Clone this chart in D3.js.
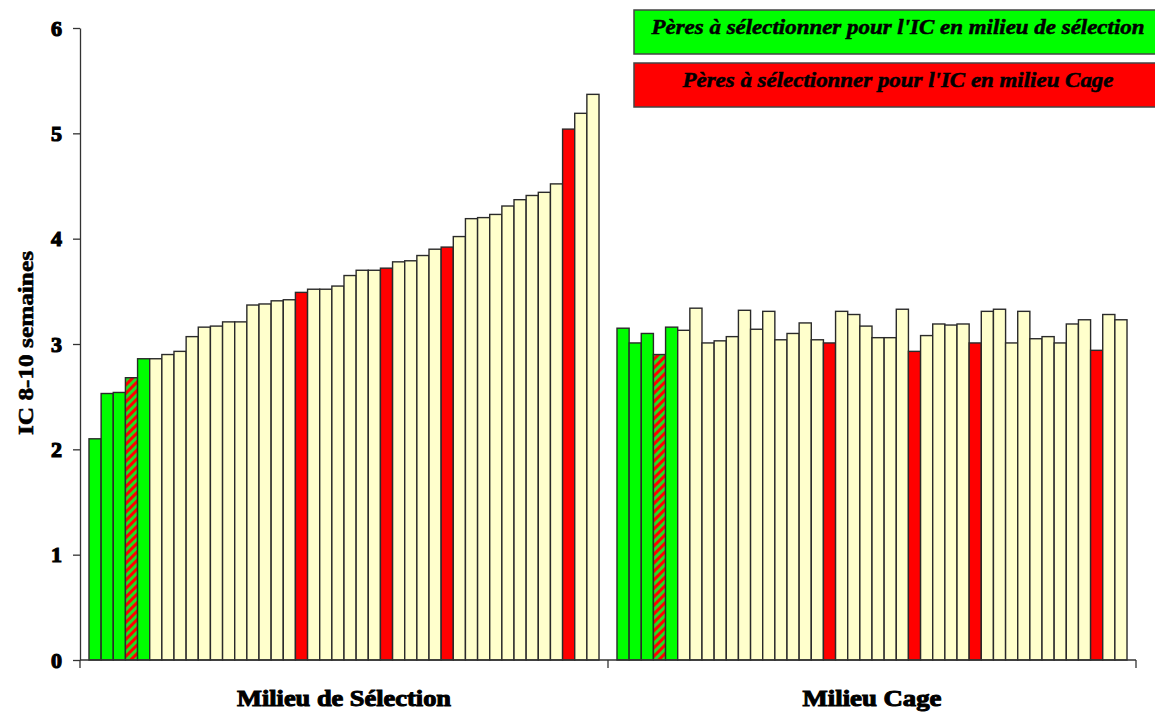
<!DOCTYPE html>
<html>
<head>
<meta charset="utf-8">
<script src="https://cdn.jsdelivr.net/npm/d3@7"></script>
<style>
  html, body { margin: 0; padding: 0; background: #ffffff; }
  svg { display: block; }
  text { font-family: "Liberation Serif", "Times New Roman", serif; }
</style>
</head>
<body>
<svg id="chart" width="1155" height="713"></svg>
<script>
// Environment groups on the x axis
const groups = ["Milieu de Sélection", "Milieu Cage"];

// IC 8-10 weeks, one bar per sire, sorted within each environment
const selectionValues = [
  2.10, 2.53, 2.54, 2.68, 2.86, 2.86, 2.90, 2.93, 3.07, 3.16, 3.17, 3.21, 3.21, 3.37,
  3.38, 3.41, 3.42, 3.49, 3.52, 3.52, 3.55, 3.65, 3.70, 3.70, 3.72, 3.78, 3.79, 3.84,
  3.90, 3.92, 4.02, 4.19, 4.20, 4.23, 4.31, 4.37, 4.41, 4.44, 4.52, 5.04, 5.19, 5.37
];
const cageValues = [
  3.15, 3.01, 3.10, 2.90, 3.16, 3.13, 3.34, 3.01, 3.03, 3.07, 3.32, 3.14, 3.31, 3.04,
  3.10, 3.20, 3.04, 3.01, 3.31, 3.28, 3.17, 3.06, 3.06, 3.33, 2.93, 3.08, 3.19, 3.18,
  3.19, 3.01, 3.31, 3.33, 3.01, 3.31, 3.05, 3.07, 3.01, 3.19, 3.23, 2.94, 3.28, 3.23
];

// Sire status: S = chosen for selection environment, C = chosen for cage, B = both, N = none
const selectionStatus = [
  "S", "S", "S", "B", "S", "N", "N", "N", "N", "N", "N", "N", "N", "N",
  "N", "N", "N", "C", "N", "N", "N", "N", "N", "N", "C", "N", "N", "N",
  "N", "C", "N", "N", "N", "N", "N", "N", "N", "N", "N", "C", "N", "N"
];
const cageStatus = [
  "S", "S", "S", "B", "S", "N", "N", "N", "N", "N", "N", "N", "N", "N",
  "N", "N", "N", "C", "N", "N", "N", "N", "N", "N", "C", "N", "N", "N",
  "N", "C", "N", "N", "N", "N", "N", "N", "N", "N", "N", "C", "N", "N"
];

const yTicks = [0, 1, 2, 3, 4, 5, 6];
const yTitle = "IC 8-10 semaines";
const legendLabels = [
  "Pères à sélectionner pour l'IC en milieu de sélection",
  "Pères à sélectionner pour l'IC en milieu Cage"
];

const groupData = [
  { name: groups[0], values: selectionValues, status: selectionStatus },
  { name: groups[1], values: cageValues, status: cageStatus }
];

const fills = { S: "#00ff00", C: "#ff0000", B: "url(#hatch)", N: "#ffffcc" };

const svg = d3.select("#chart");

// Red / green diagonal hatch for sires chosen in both environments
const defs = svg.append("defs");
const pat = defs.append("pattern")
  .attr("id", "hatch")
  .attr("patternUnits", "userSpaceOnUse")
  .attr("width", 6).attr("height", 6)
  .attr("patternTransform", "rotate(45)");
pat.append("rect").attr("width", 6).attr("height", 6).attr("fill", "#ff0000");
pat.append("rect").attr("width", 3).attr("height", 6).attr("fill", "#22dd22");

// Scales
const y = d3.scaleLinear().domain([0, 6]).range([660, 28]);
const x0 = d3.scaleBand().domain(groups).range([80, 1136]);
const x1 = d3.scaleBand()
  .domain(d3.range(selectionValues.length))
  .range([0, x0.bandwidth()])
  .paddingInner(0)
  .paddingOuter(0.74);

// Bars
const g = svg.append("g")
  .selectAll("g")
  .data(groupData)
  .join("g")
  .attr("transform", d => `translate(${x0(d.name)},0)`);

g.selectAll("rect")
  .data(d => d.values.map((v, i) => ({ v, i, s: d.status[i] })))
  .join("rect")
  .attr("x", d => x1(d.i))
  .attr("y", d => y(d.v))
  .attr("width", x1.bandwidth())
  .attr("height", d => y(0) - y(d.v))
  .attr("fill", d => fills[d.s])
  .attr("stroke", "#2a2a2a")
  .attr("stroke-width", 1.4);

// Y axis
const yAxis = svg.append("g")
  .attr("transform", "translate(80,0)")
  .call(d3.axisLeft(y).tickValues(yTicks).tickFormat(d3.format("d")).tickSize(7).tickSizeOuter(0).tickPadding(11));
yAxis.select(".domain").attr("stroke", "#333").attr("stroke-width", 1.3);
yAxis.selectAll(".tick line").attr("stroke", "#333").attr("stroke-width", 1.3);
yAxis.selectAll(".tick text")
  .attr("font-family", "Liberation Serif, serif")
  .attr("font-weight", "bold")
  .attr("font-size", 22)
  .attr("stroke", "#000")
  .attr("stroke-width", 1.2)
  .attr("fill", "#000");

// X axis: baseline with separators between environments
svg.append("line")
  .attr("x1", x0.range()[0]).attr("x2", x0.range()[1])
  .attr("y1", y(0)).attr("y2", y(0))
  .attr("stroke", "#333").attr("stroke-width", 1.3);
const bounds = groups.map(d => x0(d)).concat([x0.range()[1]]);
svg.selectAll(".xsep")
  .data(bounds)
  .join("line")
  .attr("class", "xsep")
  .attr("x1", d => d).attr("x2", d => d)
  .attr("y1", y(0)).attr("y2", y(0) + 8)
  .attr("stroke", "#333").attr("stroke-width", 1.3);

// Group labels
const groupLabelWidths = [214, 139];
svg.selectAll(".glabel")
  .data(groups)
  .join("text")
  .attr("class", "glabel")
  .attr("x", d => x0(d) + x0.bandwidth() / 2)
  .attr("y", 706)
  .attr("text-anchor", "middle")
  .attr("font-weight", "bold")
  .attr("font-size", 23)
  .attr("textLength", (d, i) => groupLabelWidths[i])
  .attr("lengthAdjust", "spacingAndGlyphs")
  .attr("stroke", "#000")
  .attr("stroke-width", 1)
  .attr("fill", "#000")
  .text(d => d);

// Y axis title
svg.append("text")
  .attr("transform", "translate(33,343) rotate(-90)")
  .attr("text-anchor", "middle")
  .attr("font-weight", "bold")
  .attr("font-size", 21)
  .attr("textLength", 184)
  .attr("lengthAdjust", "spacingAndGlyphs")
  .attr("stroke", "#000")
  .attr("stroke-width", 0.6)
  .attr("fill", "#000")
  .text(yTitle);

// Legend boxes
const legendFills = [fills.S, fills.C];
const legendWidths = [493, 431];
const lg = svg.selectAll(".legend")
  .data(legendLabels)
  .join("g")
  .attr("class", "legend")
  .attr("transform", (d, i) => `translate(634,${10 + i * 53})`);
lg.append("rect")
  .attr("width", 528).attr("height", 44)
  .attr("fill", (d, i) => legendFills[i])
  .attr("stroke", "#444").attr("stroke-width", 1.5);
lg.append("text")
  .attr("x", 264).attr("y", 24)
  .attr("text-anchor", "middle")
  .attr("font-weight", "bold")
  .attr("font-style", "italic")
  .attr("font-size", 20)
  .attr("textLength", (d, i) => legendWidths[i])
  .attr("lengthAdjust", "spacingAndGlyphs")
  .attr("stroke", "#000")
  .attr("stroke-width", 0.5)
  .attr("fill", "#000")
  .text(d => d);
</script>
</body>
</html>
